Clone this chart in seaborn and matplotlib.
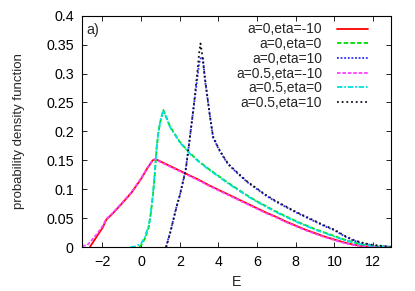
import numpy as np
import pandas as pd
import matplotlib
matplotlib.use("Agg")
import matplotlib.pyplot as plt
import seaborn as sns

# Red: a=0, eta=-10
e_red = [-2.65, -2.3, -2.0, -1.79, -1.5, -1.0, -0.5, 0.0, 0.3, 0.6, 0.75, 1.0, 1.5, 2.0,
         2.5, 3.0, 3.5, 4.0, 4.5, 5.0, 5.5, 6.0, 6.5, 7.0, 7.5, 8.0, 8.5, 9.0, 9.5,
         10.0, 10.5, 11.0, 11.5, 12.0, 12.9]
p_red = [0.0, 0.018, 0.033, 0.048, 0.057, 0.075, 0.094, 0.118, 0.135, 0.150, 0.152, 0.148,
         0.140, 0.132, 0.124, 0.116, 0.107, 0.099, 0.091, 0.083, 0.075, 0.067, 0.059, 0.052,
         0.044, 0.037, 0.030, 0.024, 0.018, 0.013, 0.008, 0.004, 0.0015, 0.0004, 0.0]

# Green: a=0, eta=0
e_green = [-0.1, 0.0, 0.2, 0.4, 0.5, 0.6, 0.7, 0.8, 0.9, 1.0, 1.15, 1.3, 1.5, 1.75, 2.0,
           2.5, 3.0, 3.5, 4.0, 4.5, 5.0, 5.5, 6.0, 6.5, 7.0, 7.5, 8.0, 8.5, 9.0, 9.5,
           10.0, 10.5, 11.0, 11.5, 12.0, 12.5, 12.9]
p_green = [0.0, 0.003, 0.015, 0.035, 0.058, 0.085, 0.123, 0.170, 0.200, 0.218, 0.237, 0.225,
           0.208, 0.195, 0.182, 0.163, 0.148, 0.135, 0.123, 0.111, 0.100, 0.089, 0.079,
           0.070, 0.061, 0.053, 0.045, 0.038, 0.031, 0.025, 0.019, 0.013, 0.008, 0.004,
           0.0015, 0.0005, 0.0]

# Blue: a=0, eta=10
e_blue = [1.28, 1.5, 1.83, 2.0, 2.3, 2.45, 2.7, 2.9, 3.0, 3.1, 3.2, 3.3, 3.55, 3.72, 4.0,
          4.25, 4.5, 5.0, 5.5, 6.0, 6.5, 7.0, 7.5, 8.0, 8.5, 9.0, 9.5, 10.0, 10.5, 11.0,
          11.5, 12.0, 12.5, 12.9]
p_blue = [0.0, 0.025, 0.070, 0.090, 0.133, 0.171, 0.237, 0.290, 0.318, 0.328, 0.326, 0.290,
          0.228, 0.190, 0.170, 0.156, 0.143, 0.127, 0.112, 0.100, 0.088, 0.078, 0.069,
          0.060, 0.052, 0.044, 0.036, 0.029, 0.019, 0.011, 0.006, 0.003, 0.0015, 0.0005]

# Magenta: a=0.5, eta=-10
e_mag = [-3.05, -2.8, -2.6, -2.3, -2.0, -1.79, -1.5, -1.0, -0.5, 0.0, 0.3, 0.6, 0.75, 1.0,
         1.5, 2.0, 2.5, 3.0, 3.5, 4.0, 4.5, 5.0, 5.5, 6.0, 6.5, 7.0, 7.5, 8.0, 8.5, 9.0,
         9.5, 10.0, 10.5, 11.0, 11.5, 12.0, 12.9]
p_mag = [0.002, 0.003, 0.010, 0.022, 0.036, 0.049, 0.058, 0.076, 0.095, 0.119, 0.136, 0.151,
         0.152, 0.147, 0.139, 0.131, 0.123, 0.115, 0.106, 0.098, 0.090, 0.082, 0.074,
         0.066, 0.058, 0.051, 0.043, 0.036, 0.029, 0.023, 0.017, 0.012, 0.007, 0.0035,
         0.0012, 0.0003, 0.0]

# Cyan: a=0.5, eta=0
e_cyan = [-0.55, -0.3, 0.0, 0.2, 0.4, 0.5, 0.6, 0.7, 0.8, 0.9, 1.0, 1.15, 1.3, 1.5, 1.75,
          2.0, 2.5, 3.0, 3.5, 4.0, 4.5, 5.0, 5.5, 6.0, 6.5, 7.0, 7.5, 8.0, 8.5, 9.0, 9.5,
          10.0, 10.5, 11.0, 11.5, 12.0, 12.5, 12.9]
p_cyan = [0.0, 0.001, 0.006, 0.018, 0.038, 0.060, 0.088, 0.126, 0.172, 0.201, 0.219, 0.236,
          0.224, 0.207, 0.194, 0.181, 0.162, 0.147, 0.134, 0.122, 0.110, 0.099, 0.088,
          0.078, 0.069, 0.060, 0.052, 0.044, 0.037, 0.030, 0.024, 0.018, 0.012, 0.0075,
          0.004, 0.002, 0.001, 0.0005]

# Black: a=0.5, eta=10
e_black = [1.3, 1.5, 1.83, 2.0, 2.3, 2.45, 2.7, 2.9, 3.0, 3.07, 3.15, 3.3, 3.55, 3.72, 4.0,
           4.25, 4.5, 5.0, 5.5, 6.0, 6.5, 7.0, 7.5, 8.0, 8.5, 9.0, 9.5, 10.0, 10.5, 11.0,
           11.5, 12.0, 12.5, 12.9]
p_black = [0.0, 0.024, 0.069, 0.089, 0.132, 0.170, 0.238, 0.300, 0.335, 0.352, 0.335, 0.292,
           0.229, 0.191, 0.171, 0.157, 0.144, 0.128, 0.113, 0.101, 0.089, 0.079, 0.070,
           0.061, 0.053, 0.045, 0.037, 0.030, 0.020, 0.012, 0.007, 0.0035, 0.0018, 0.0006]

labels = ["a=0,eta=-10", "a=0,eta=0", "a=0,eta=10",
          "a=0.5,eta=-10", "a=0.5,eta=0", "a=0.5,eta=10"]
series = [(e_red, p_red), (e_green, p_green), (e_blue, p_blue),
          (e_mag, p_mag), (e_cyan, p_cyan), (e_black, p_black)]
colors = ["#ff0000", "#00dd00", "#2a2aff", "#ff40ff", "#00e0e0", "#101020"]
styles = ["-", (0, (2.5, 1.2)), (0, (1, 1)), (0, (2, 1)), (0, (3, 1, 1, 1)), (0, (1, 1.6))]

sns.set_style("ticks")
plt.rcParams['font.family'] = ['Liberation Sans', 'DejaVu Sans']

fig = plt.figure(figsize=(4.15, 2.91), dpi=100)
ax = fig.add_axes([0.198, 0.151, 0.743, 0.795])

for (e, p), lab, c, ls in zip(series, labels, colors, styles):
    sns.lineplot(x=e, y=p, ax=ax, color=c, linestyle=ls, linewidth=1.3, label=lab)

ax.set_xlim(-3.05, 12.9)
ax.set_ylim(0, 0.4)
ax.set_xticks([-2, 0, 2, 4, 6, 8, 10, 12])
ax.set_yticks([0, 0.05, 0.1, 0.15, 0.2, 0.25, 0.3, 0.35, 0.4])
ax.set_yticklabels(["0", "0.05", "0.1", "0.15", "0.2", "0.25", "0.3", "0.35", "0.4"])
ax.tick_params(direction="in", top=True, right=True, length=3.5, width=0.6,
               labelsize=10.3, colors="black", pad=6)
for s in ax.spines.values():
    s.set_linewidth(0.8)
    s.set_color("black")
ax.set_xlabel("E", fontsize=10.3, labelpad=4)
ax.set_ylabel("probability density function", fontsize=9.5, labelpad=15)
ax.text(0.015, 0.97, "a)", transform=ax.transAxes, fontsize=10.3, va="top", ha="left")

ax.legend(loc="upper right", frameon=False, markerfirst=False, fontsize=10,
          handlelength=2.2, handletextpad=1.1, labelspacing=0.05,
          borderaxespad=0.0, bbox_to_anchor=(0.945, 0.995))

fig.savefig("out.png", dpi=100)
